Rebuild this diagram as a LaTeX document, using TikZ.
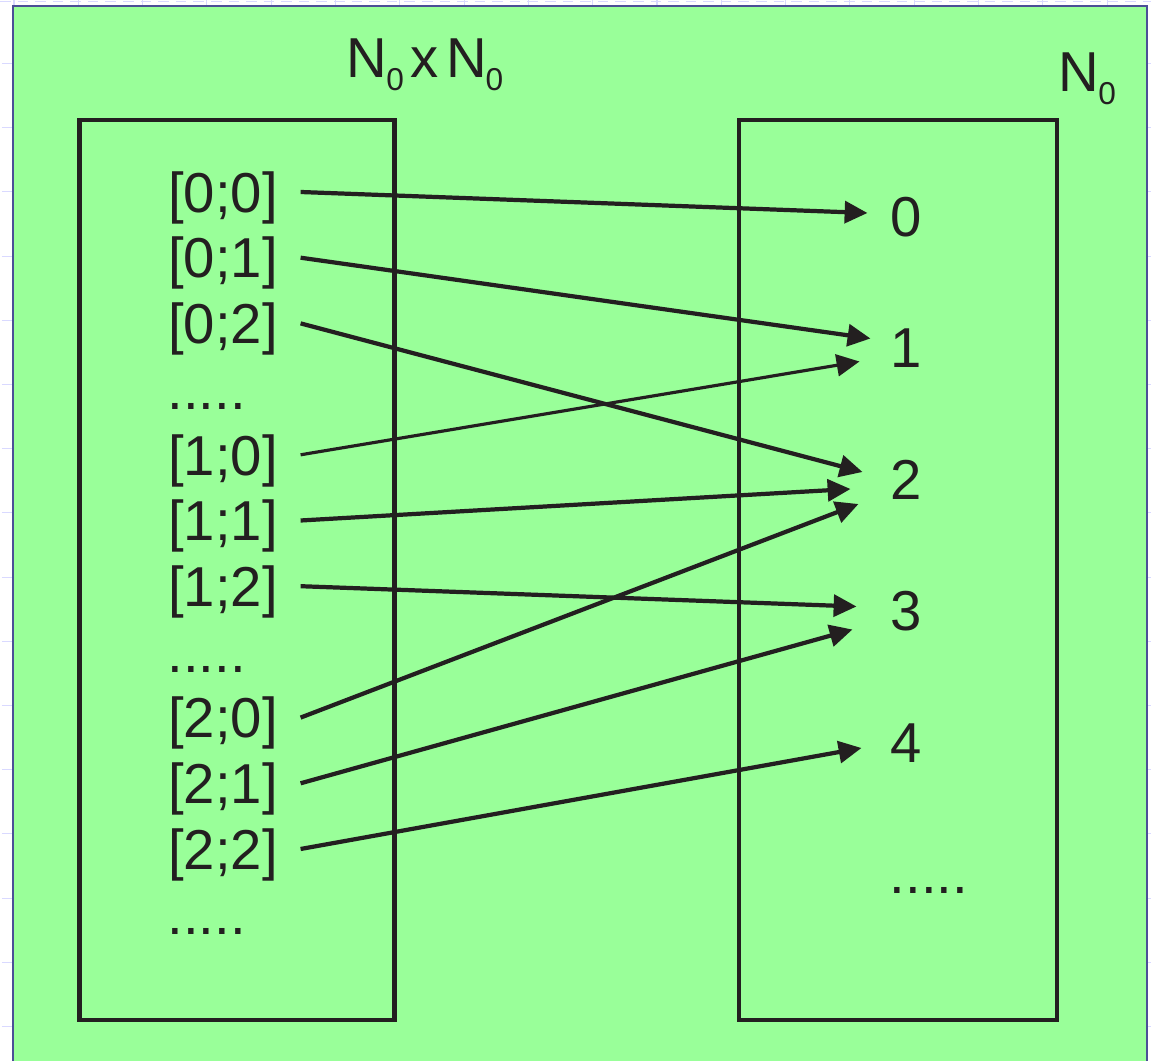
\documentclass[tikz,border=0pt]{standalone}
\usepackage{fontspec}
\setmainfont{Liberation Sans}
\usetikzlibrary{arrows.meta,calc}
\definecolor{ink}{RGB}{35,31,32}
\definecolor{paper}{RGB}{153,255,153}
\definecolor{frame}{RGB}{75,79,150}
\newcommand{\subnull}{\hspace{-0.3pt}\raisebox{-3.5pt}{\fontsize{9}{9}\selectfont 0}}
\begin{document}
\begin{tikzpicture}[x=0.01cm,y=-0.01cm,
    lab/.style={text=ink,font=\fontsize{16}{19}\selectfont,text height=11.5pt,text depth=0pt,inner xsep=6.3pt},
    arr/.style={ink,line width=1.2pt,-{Triangle[length=6.5pt,width=6.2pt]}},
    setbox/.style={ink,line width=1.4pt}]
  \useasboundingbox (0,0) rectangle (1151,1061);
  % ruler marks of the page
  \draw[blue!15,densely dashed,line width=0.3pt] (0,1.5) -- (1151,1.5);
  \foreach \k in {0,...,17}
    \draw[blue!15,line width=0.3pt] (14+64.3*\k,0) -- (14+64.3*\k,6);
  \foreach \k in {0,...,15} {
    \draw[blue!15,densely dashed,line width=0.3pt] (2,63.5+64.2*\k) -- (12,63.5+64.2*\k);
    \draw[blue!15,densely dashed,line width=0.3pt] (1148,63.5+64.2*\k) -- (1151,63.5+64.2*\k);
  }
  \draw[frame,fill=paper,line width=0.6pt] (13,1061) -- (13,6) -- (1147,6) -- (1147,1061);
  % the two sets
  \draw[setbox] (79.5,120) rectangle (394.5,1020);
  \draw[setbox] (739,120) rectangle (1057,1020);
  \node[lab,anchor=base west,inner sep=0pt] (pairs) at (346,78) {N\subnull\hspace{2pt}x\hspace{2pt}N\subnull};
  \node[lab,anchor=base west,inner sep=0pt] (nats) at (1058,92) {N\subnull};
  % pairs
  \foreach \k/\nm/\txt in {0/p00/{[0;0]}, 1/p01/{[0;1]}, 2/p02/{[0;2]},
                           4/p10/{[1;0]}, 5/p11/{[1;1]}, 6/p12/{[1;2]},
                           8/p20/{[2;0]}, 9/p21/{[2;1]}, 10/p22/{[2;2]}}
    \node[lab] (\nm) at (223,192+65.7*\k) {\txt};
  \foreach \k/\nm in {3/d1, 7/d2, 11/d3}
    \node[lab] (\nm) at (206.6,192+65.7*\k) {.....};
  % numbers
  \foreach \k in {0,...,4}
    \node[lab] (n\k) at (906,216+131.5*\k) {\k};
  \node[lab] (d4) at (929,873) {.....};
  % the mapping
  \foreach \s/\t/\dx/\dy in {p00/n0/0/-3, p01/n1/3/-9, p02/n2/-5/-7,
                             p11/n2/-17/10, p12/n3/-11/-4, p20/n2/-9/25,
                             p21/n3/-15/19, p22/n4/-6/6}
    \draw[arr] (\s.east) -- ($(\t.west)+(\dx,\dy)$);
  \draw[arr,line width=0.9pt] (p10.east) -- ($(n1.west)+(-8,14)$);
\end{tikzpicture}
\end{document}
